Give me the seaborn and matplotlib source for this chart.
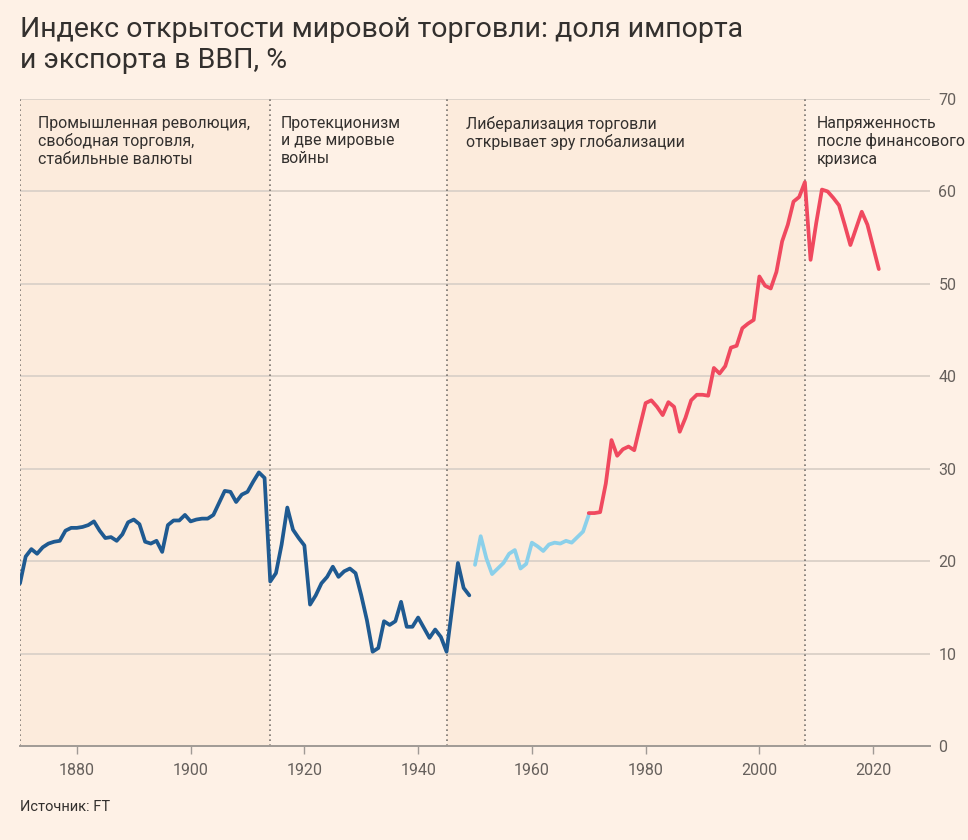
import numpy as np
import pandas as pd
import matplotlib
matplotlib.use("Agg")
import matplotlib.pyplot as plt
import seaborn as sns

# --- data ---
years_early = list(range(1870, 1950))
share_early = [17.6, 20.5, 21.3, 20.8, 21.5, 21.9, 22.1, 22.2, 23.3, 23.6,
               23.6, 23.7, 23.9, 24.3, 23.3, 22.5, 22.6, 22.2, 22.9, 24.2,
               24.5, 24.0, 22.1, 21.9, 22.2, 21.0, 23.9, 24.4, 24.4, 25.0,
               24.3, 24.5, 24.6, 24.6, 25.0, 26.3, 27.6, 27.5, 26.4, 27.2,
               27.5, 28.6, 29.6, 29.0, 17.8, 18.7, 21.8, 25.8, 23.4, 22.5,
               21.7, 15.3, 16.3, 17.6, 18.3, 19.4, 18.3, 18.9, 19.2, 18.7,
               16.3, 13.6, 10.2, 10.6, 13.5, 13.1, 13.5, 15.6, 12.9, 12.9,
               13.9, 12.8, 11.7, 12.6, 11.8, 10.2, 15.0, 19.8, 17.1, 16.3]

years_postwar = list(range(1950, 1971))
share_postwar = [19.6, 22.7, 20.3, 18.6, 19.2, 19.8, 20.8, 21.2, 19.2, 19.7,
                 22.0, 21.6, 21.1, 21.8, 22.0, 21.9, 22.2, 22.0, 22.6, 23.2,
                 25.0]

years_modern = list(range(1970, 2022))
share_modern = [25.2, 25.2, 25.3, 28.4, 33.1, 31.4, 32.1, 32.4, 32.0, 34.6,
                37.1, 37.4, 36.7, 35.8, 37.2, 36.7, 34.0, 35.5, 37.4, 38.0,
                38.0, 37.9, 40.9, 40.3, 41.1, 43.1, 43.3, 45.2, 45.7, 46.1,
                50.8, 49.8, 49.5, 51.3, 54.6, 56.4, 58.9, 59.4, 61.0, 52.6,
                56.6, 60.2, 60.0, 59.3, 58.5, 56.4, 54.2, 56.0, 57.8, 56.4,
                54.0, 51.6]

era_bounds = [1870, 1914, 1945, 2008, 2030]
era_labels = ["Промышленная революция,\nсвободная торговля,\nстабильные валюты",
              "Протекционизм\nи две мировые\nвойны",
              "Либерализация торговли\nоткрывает эру глобализации",
              "Напряженность\nпосле финансового\nкризиса"]
label_x = [1873.2, 1915.9, 1948.4, 2010.1]

x_ticks = [1880, 1900, 1920, 1940, 1960, 1980, 2000, 2020]
y_ticks = [0, 10, 20, 30, 40, 50, 60, 70]

title = "Индекс открытости мировой торговли: доля импорта\nи экспорта в ВВП, %"
source = "Источник: FT"

# --- styling ---
BG = "#fef1e6"
SHADE = "#fcebdc"
TEXT = "#33302e"
GREY = "#66605c"
palette = {"early": "#1f5a91", "postwar": "#8bd0ea", "modern": "#f0495f"}

df = pd.concat([
    pd.DataFrame({"year": years_early, "share": share_early, "era": "early"}),
    pd.DataFrame({"year": years_postwar, "share": share_postwar, "era": "postwar"}),
    pd.DataFrame({"year": years_modern, "share": share_modern, "era": "modern"}),
], ignore_index=True)

sns.set_theme(style="white")
plt.rcParams["font.family"] = ["Roboto", "DejaVu Sans"]

fig = plt.figure(figsize=(9.68, 8.4), dpi=100, facecolor=BG)
ax = fig.add_axes([20 / 968, 94 / 840, 910 / 968, 647 / 840])
ax.set_facecolor(BG)

# shaded eras (first and third)
for i in (0, 2):
    ax.axvspan(era_bounds[i], era_bounds[i + 1], color=SHADE, lw=0, zorder=0)

# horizontal grid
for yv in y_ticks[1:]:
    ax.axhline(yv, color="#ddd3ca", lw=1.4, zorder=1)

# era separators
for xv in era_bounds[:-1]:
    ax.plot([xv, xv], [0, 70], color="#7a7570", lw=1.2, ls=(0, (1, 2)), zorder=2)

sns.lineplot(data=df, x="year", y="share", hue="era", palette=palette,
             estimator=None, linewidth=2.7, legend=False, ax=ax, zorder=3)

# era annotations
for lx, lab in zip(label_x, era_labels):
    ax.text(lx, 68.2, lab, ha="left", va="top", fontsize=11.4,
            color=TEXT, linespacing=1.22, zorder=4)

ax.set_xlim(1870, 2030)
ax.set_ylim(0, 70)
ax.set_xticks(x_ticks)
ax.set_yticks(y_ticks)
ax.yaxis.tick_right()
ax.tick_params(axis="y", length=0, pad=6, labelsize=11.5, labelcolor=GREY)
ax.tick_params(axis="x", length=6, width=1, color="#a09a95", pad=6,
               labelsize=11.5, labelcolor=GREY, bottom=True)
ax.set_xlabel("")
ax.set_ylabel("")
for side in ("top", "left", "right"):
    ax.spines[side].set_visible(False)
ax.spines["bottom"].set_color("#a09a95")
ax.spines["bottom"].set_linewidth(1.4)

fig.text(20 / 968, 1 - 16 / 840, title, ha="left", va="top", fontsize=20.5,
         color=TEXT, linespacing=1.17)
fig.text(20 / 968, 1 - 807 / 840, source, ha="left", va="center", fontsize=10.5,
         color=TEXT)

fig.savefig("out.png", dpi=100, facecolor=BG)
